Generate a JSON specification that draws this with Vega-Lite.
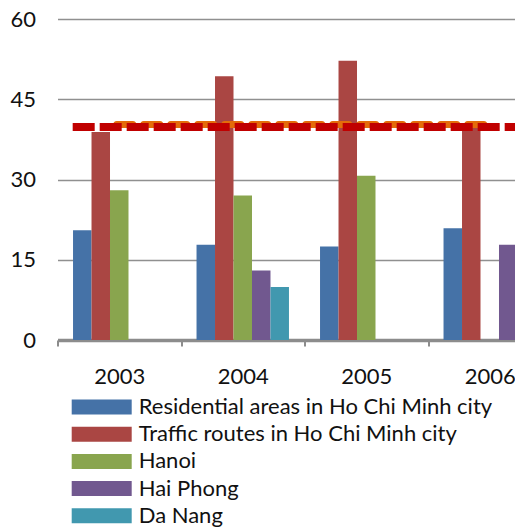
{
  "$schema": "https://vega.github.io/schema/vega-lite/v6.json",
  "width": 457.5,
  "height": 321,
  "autosize": "none",
  "padding": {"left": 57.5, "top": 19, "right": 0, "bottom": 189},
  "config": {"view": {"stroke": null}, "font": "Lato"},
  "layer": [
    {
      "data": {"values": [
        {"year": "2003", "series": "Residential areas in Ho Chi Minh city", "value": 20.5},
        {"year": "2003", "series": "Traffic routes in Ho Chi Minh city", "value": 38.9},
        {"year": "2003", "series": "Hanoi", "value": 28.0},
        {"year": "2004", "series": "Residential areas in Ho Chi Minh city", "value": 17.8},
        {"year": "2004", "series": "Traffic routes in Ho Chi Minh city", "value": 49.3},
        {"year": "2004", "series": "Hanoi", "value": 27.0},
        {"year": "2004", "series": "Hai Phong", "value": 13.0},
        {"year": "2004", "series": "Da Nang", "value": 9.9},
        {"year": "2005", "series": "Residential areas in Ho Chi Minh city", "value": 17.5},
        {"year": "2005", "series": "Traffic routes in Ho Chi Minh city", "value": 52.2},
        {"year": "2005", "series": "Hanoi", "value": 30.7},
        {"year": "2006", "series": "Residential areas in Ho Chi Minh city", "value": 20.9},
        {"year": "2006", "series": "Traffic routes in Ho Chi Minh city", "value": 40.0},
        {"year": "2006", "series": "Hai Phong", "value": 17.8}
      ]},
      "mark": {"type": "bar"},
      "encoding": {
        "x": {
          "field": "year", "type": "nominal",
          "scale": {"paddingInner": 0, "paddingOuter": 0, "range": [0, 494]},
          "axis": {"title": null, "labelAngle": 0, "tickBand": "extent", "domainColor": "#8c8c8c", "domainWidth": 3.5, "tickColor": "#8c8c8c", "tickWidth": 2, "tickSize": 6, "labelFontSize": 22, "labelPadding": 20, "labelColor": "#111111", "grid": false}
        },
        "xOffset": {
          "field": "series",
          "scale": {"domain": ["Residential areas in Ho Chi Minh city", "Traffic routes in Ho Chi Minh city", "Hanoi", "Hai Phong", "Da Nang"], "paddingInner": 0, "paddingOuter": 0.84}
        },
        "y": {
          "field": "value", "type": "quantitative",
          "scale": {"domain": [0, 60]},
          "axis": {"title": null, "values": [0, 15, 30, 45, 60], "domain": false, "ticks": false, "grid": true, "gridColor": "#909090", "gridWidth": 1.5, "labelFontSize": 22, "labelColor": "#111111", "labelPadding": 22}
        },
        "color": {
          "field": "series", "type": "nominal",
          "scale": {"domain": ["Residential areas in Ho Chi Minh city", "Traffic routes in Ho Chi Minh city", "Hanoi", "Hai Phong", "Da Nang"], "range": ["#4572A7", "#AA4643", "#89A54E", "#71588F", "#4198AF"]},
          "legend": {"orient": "none", "legendX": 33.2, "legendY": 377, "direction": "vertical", "title": null, "symbolType": "M-4,-1H4V1H-4Z", "symbolSize": 225, "symbolStrokeWidth": 0, "symbolOpacity": 1, "labelFontSize": 22, "labelOffset": 26, "rowPadding": 5.2, "padding": 0, "labelColor": "#111111", "labelLimit": 0}
        }
      }
    },
    {
      "data": {"values": [{"from": 0.48, "to": 3.5, "value": 40.3}]},
      "mark": {"type": "rule", "color": "#E46C0A", "strokeWidth": 7, "strokeCap": "round", "strokeDash": [16, 11], "strokeDashOffset": 0},
      "encoding": {
        "x": {"field": "from", "type": "quantitative", "scale": {"domain": [0, 4], "range": [0, 494]}, "axis": null},
        "x2": {"field": "to"},
        "y": {"field": "value", "type": "quantitative"}
      }
    },
    {
      "data": {"values": [{"from": 0.123, "to": 4, "value": 39.8}]},
      "mark": {"type": "rule", "color": "#C00000", "strokeWidth": 8, "strokeDash": [22, 5]},
      "encoding": {
        "x": {"field": "from", "type": "quantitative", "scale": {"domain": [0, 4], "range": [0, 494]}, "axis": null},
        "x2": {"field": "to"},
        "y": {"field": "value", "type": "quantitative"}
      }
    }
  ],
  "resolve": {"scale": {"x": "independent"}}
}
